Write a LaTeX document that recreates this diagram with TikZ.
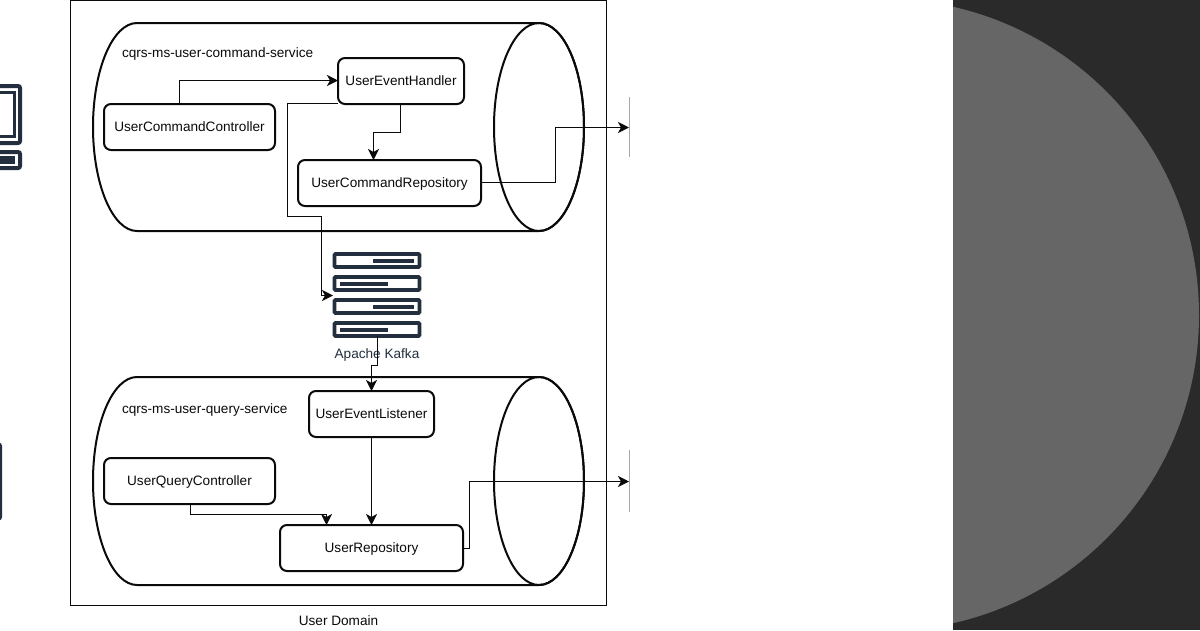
\documentclass[tikz,border=0pt]{standalone}
\usepackage{fontspec}
\setmainfont{Liberation Sans}
\usetikzlibrary{arrows.meta,calc}
\definecolor{ink}{HTML}{0A0A0A}
\definecolor{aws}{HTML}{232F3E}
\definecolor{panel}{HTML}{2A2A2A}
\definecolor{disc}{HTML}{666666}
\definecolor{tick}{HTML}{A8A8A8}
\tikzset{
  x=1pt,y=-1pt,
  every node/.style={font=\fontsize{13.6}{16}\selectfont,text=ink,outer sep=0pt,inner sep=0pt},
  svc/.style={draw=ink,line width=2pt,rounded corners=7pt,fill=white,minimum height=46pt,text height=11pt,text depth=2pt},
  cyl/.style={draw=ink,line width=2pt,fill=white},
  link/.style={draw=ink,line width=1.9pt,line join=miter},
  arrow/.style={link,-{Stealth[length=11pt,width=11pt,inset=3pt]}},
  lab/.style={anchor=west},
  rack/.style={draw=aws,line width=3.8pt,rounded corners=1pt,fill=white,minimum width=85pt,minimum height=13pt},
  rackbar/.style={draw=aws,line width=4pt},
  tickline/.style={draw=tick,line width=1pt}
}
\newcommand{\cylinder}[1]{%
  \draw[cyl] (137,#1-104) -- (539,#1-104) arc[start angle=-90,end angle=90,x radius=45pt,y radius=-104pt] -- (137,#1+104) arc[start angle=90,end angle=270,x radius=44pt,y radius=-104pt] -- cycle;
  \draw[cyl,fill=none] (539,#1) ellipse[x radius=45pt,y radius=104pt];
}
\begin{document}
\begin{tikzpicture}
\useasboundingbox (0,0) rectangle (1200,630);
\fill[white] (0,0) rectangle (1200,630);
% right panel
\begin{scope}
  \clip (953,0) rectangle (1200,630);
  \fill[panel] (953,0) rectangle (1200,630);
  \fill[disc] (883,315) circle[radius=316pt];
\end{scope}
% partially visible icons on the left edge
\begin{scope}
  \clip (0,0) rectangle (30,630);
  \draw[aws,line width=4pt,rounded corners=2pt] (-30,86) rectangle (20,143);
  \draw[aws,line width=3pt] (-30,92) rectangle (14,136);
  \draw[aws,line width=4pt,rounded corners=2pt] (-30,152) rectangle (20,168);
  \fill[aws] (-30,156) rectangle (15,164);
  \draw[aws,line width=3pt,rounded corners=2pt] (-30,444) rectangle (0.5,519);
\end{scope}
% outer frame
\draw[ink,line width=1pt] (70,0.5) rectangle (606.5,605.5);
\node (domain) at (338.5,620.5) {User Domain};
% cylinders
\cylinder{127}
\cylinder{481}
\node[lab] (cmdlabel) at (122,54) {cqrs-ms-user-command-service};
\node[lab] (qrylabel) at (122,410) {cqrs-ms-user-query-service};
% kafka
\node[rack] (k1) at (377,260.5) {};
\node[rack] (k2) at (377,283.5) {};
\node[rack] (k3) at (377,306.5) {};
\node[rack] (k4) at (377,329.5) {};
\draw[rackbar] (373,260.5) -- (414,260.5);
\draw[rackbar] (340,283.5) -- (388,283.5);
\draw[rackbar] (373,306.5) -- (414,306.5);
\draw[rackbar] (340,329.5) -- (388,329.5);
\node[text=aws] (kafka) at (377,355) {Apache Kafka};
% services
\node[svc,minimum width=171pt] (ucc) at (189.5,127) {UserCommandController};
\node[svc,minimum width=126pt] (ueh) at (401,81) {UserEventHandler};
\node[svc,minimum width=183pt] (ucr) at (389.5,183) {UserCommandRepository};
\node[svc,minimum width=125pt] (uel) at (371.5,414) {UserEventListener};
\node[svc,minimum width=171pt] (uqc) at (189.5,481) {UserQueryController};
\node[svc,minimum width=183pt] (ur) at (371.5,548) {UserRepository};
% off-page targets
\coordinate (t1top) at (629,97);
\coordinate (t1) at (629,127.5);
\coordinate (t1bot) at (629,157);
\coordinate (t2top) at (629,450);
\coordinate (t2) at (629,481.5);
\coordinate (t2bot) at (629,512);
\coordinate (kin) at (333,295.5);
\draw[tickline] (t1top) -- (t1bot);
\draw[tickline] (t2top) -- (t2bot);
% connectors
\draw[arrow] ([xshift=-10pt]ucc.north) -- (179.5,80.5) -- ([yshift=0.5pt]ueh.west);
\draw[arrow] ([xshift=-0.5pt]ueh.south) -- (400.5,132.5) -- (373.5,132.5) -- (373.5,160);
\draw[arrow] ([yshift=0.5pt]ueh.south west) -- (287.5,103.5) -- (287.5,216.5) -- (321.5,216.5) -- (321.5,295.5) -- (kin);
\draw[arrow] ([yshift=0.5pt]ucr.east) -- (555.5,182.5) -- (555.5,127.5) -- (t1);
\draw[arrow] ([xshift=0.5pt]k4.south) -- (377.5,365.5) -- (371.5,365.5) -- (uel.north);
\draw[arrow] (uel.south) -- (ur.north);
\draw[arrow] ([xshift=1pt]uqc.south) -- (190.5,514.5) -- (326.5,514.5) -- (326.5,525);
\draw[arrow] ([yshift=-0.5pt]ur.east) -- (469.5,548.5) -- (469.5,481.5) -- (t2);
\end{tikzpicture}
\end{document}
